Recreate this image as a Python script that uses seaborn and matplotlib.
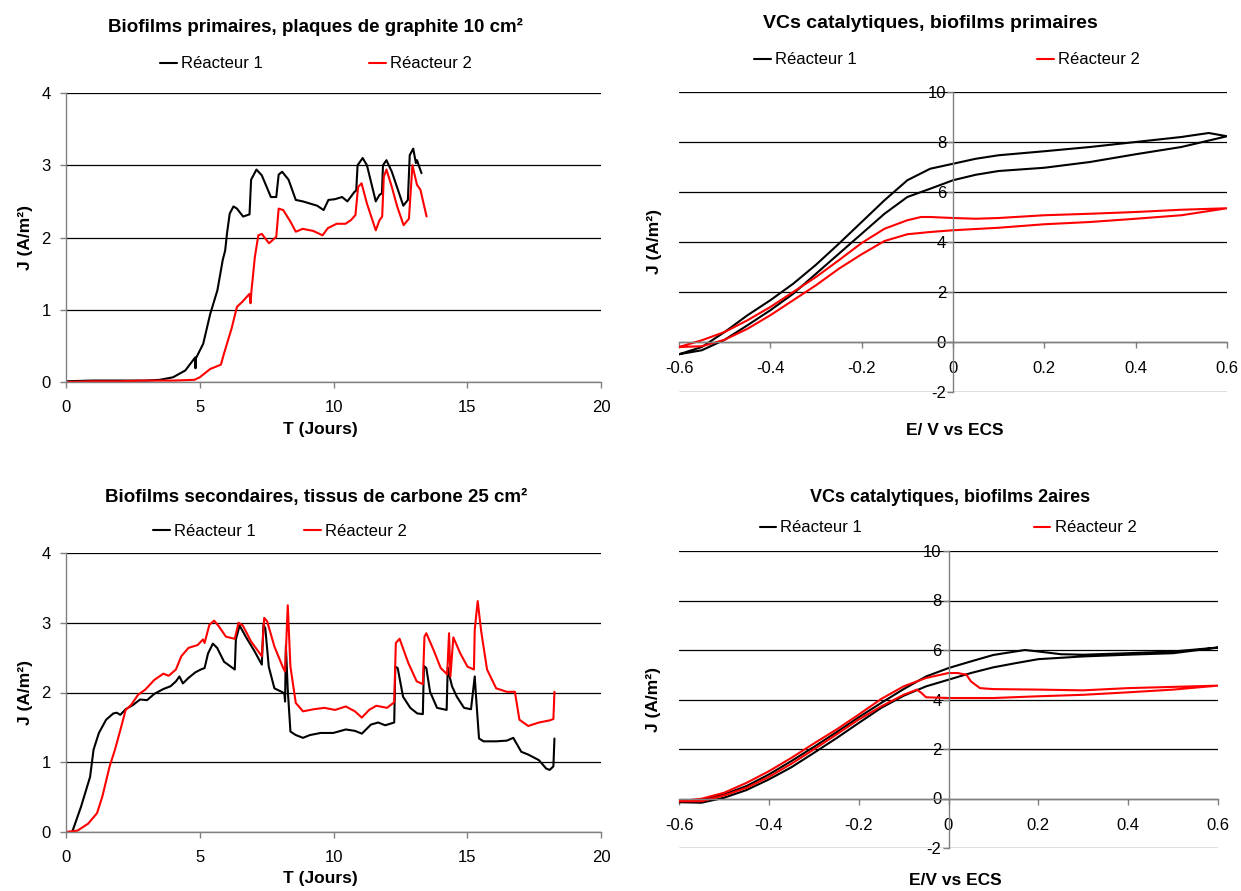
import numpy as np
import pandas as pd
import matplotlib
matplotlib.use("Agg")
import matplotlib.pyplot as plt
import seaborn as sns

sns.set_theme(style="white")
plt.rcParams["font.family"] = ["Liberation Sans", "DejaVu Sans"]
plt.rcParams["axes.unicode_minus"] = False
plt.rcParams["text.color"] = "black"
plt.rcParams["axes.labelcolor"] = "black"
plt.rcParams["xtick.color"] = "black"
plt.rcParams["ytick.color"] = "black"

# ---------------- data ----------------
series_names = ["Réacteur 1", "Réacteur 2"]
colors = {"Réacteur 1": "#000000", "Réacteur 2": "#FF0000"}

# Primary biofilms, chronoamperometry
t_prim_r1 = [0.0, 1.0, 2.0, 3.0, 3.5, 4.0, 4.46, 4.83, 4.84, 4.86, 5.13, 5.39, 5.66, 5.86, 5.95, 6.02,
             6.12, 6.26, 6.39, 6.62, 6.86, 6.92, 7.12, 7.32, 7.66, 7.86, 7.95, 8.08, 8.32, 8.59, 8.85,
             9.12, 9.39, 9.63, 9.81, 10.05, 10.32, 10.52, 10.78, 10.85, 10.90, 11.09, 11.25, 11.58,
             11.72, 11.81, 11.85, 11.98, 12.18, 12.61, 12.78, 12.85, 12.98, 13.08, 13.12, 13.29]
j_prim_r1 = [0.01, 0.02, 0.02, 0.02, 0.03, 0.065, 0.16, 0.34, 0.19, 0.33, 0.53, 0.94, 1.27, 1.69, 1.82, 2.06,
             2.33, 2.43, 2.40, 2.29, 2.32, 2.80, 2.94, 2.86, 2.56, 2.56, 2.87, 2.91, 2.80, 2.52, 2.50,
             2.47, 2.44, 2.38, 2.52, 2.53, 2.56, 2.50, 2.63, 2.65, 3.00, 3.10, 3.00, 2.50,
             2.59, 2.61, 3.00, 3.07, 2.91, 2.44, 2.52, 3.14, 3.23, 3.03, 3.07, 2.89]
t_prim_r2 = [0.0, 1.0, 2.0, 3.0, 4.0, 4.8, 5.0, 5.39, 5.79, 5.92, 6.19, 6.39, 6.59, 6.86, 6.90, 6.93,
             7.06, 7.19, 7.32, 7.59, 7.86, 7.95, 8.12, 8.39, 8.59, 8.85, 9.25, 9.59, 9.79, 10.12,
             10.45, 10.65, 10.82, 10.92, 11.05, 11.25, 11.58, 11.72, 11.82, 11.88, 11.98, 12.18,
             12.38, 12.62, 12.82, 12.95, 13.12, 13.25, 13.48]
j_prim_r2 = [0.0, 0.01, 0.01, 0.02, 0.02, 0.03, 0.065, 0.18, 0.24, 0.41, 0.74, 1.04, 1.11, 1.22, 1.09, 1.25,
             1.73, 2.03, 2.05, 1.92, 2.01, 2.40, 2.38, 2.22, 2.08, 2.12, 2.09, 2.03, 2.13, 2.19,
             2.19, 2.24, 2.31, 2.70, 2.75, 2.47, 2.10, 2.24, 2.29, 2.84, 2.94, 2.70,
             2.43, 2.17, 2.26, 3.00, 2.73, 2.66, 2.29]

# Secondary biofilms, chronoamperometry
t_sec_r1 = [0.0, 0.23, 0.56, 0.90, 1.03, 1.23, 1.50, 1.77, 1.90, 2.03, 2.23, 2.50, 2.77, 3.03, 3.30, 3.64,
            3.91, 4.11, 4.24, 4.37, 4.58, 4.84, 5.04, 5.18, 5.31, 5.49, 5.65, 5.91, 6.31, 6.35, 6.49,
            6.72, 7.05, 7.32, 7.38, 7.45, 7.58, 7.79, 8.06, 8.16, 8.19, 8.22, 8.29, 8.39, 8.59, 8.86,
            9.12, 9.52, 9.99, 10.46, 10.80, 11.06, 11.40, 11.67, 11.93, 12.27, 12.31, 12.40, 12.60,
            12.87, 13.13, 13.34, 13.38, 13.47, 13.61, 13.87, 14.23, 14.27, 14.34, 14.43, 14.61, 14.88,
            15.14, 15.28, 15.32, 15.44, 15.61, 16.08, 16.48, 16.72, 17.02, 17.28, 17.68, 17.95, 18.08,
            18.22, 18.26]
j_sec_r1 = [0.0, 0.0, 0.36, 0.79, 1.18, 1.42, 1.61, 1.70, 1.71, 1.68, 1.76, 1.82, 1.90, 1.89, 1.98, 2.05,
            2.09, 2.16, 2.23, 2.13, 2.21, 2.29, 2.33, 2.35, 2.56, 2.70, 2.64, 2.44, 2.33, 2.76, 2.96,
            2.80, 2.59, 2.40, 2.97, 2.92, 2.37, 2.06, 2.01, 1.99, 1.87, 2.67, 2.04, 1.44, 1.39, 1.35,
            1.39, 1.42, 1.42, 1.47, 1.45, 1.41, 1.54, 1.57, 1.53, 1.57, 2.37, 2.35, 1.94,
            1.78, 1.70, 1.69, 2.38, 2.35, 2.01, 1.78, 1.75, 2.36, 2.23, 2.09, 1.94, 1.78,
            1.76, 2.23, 1.99, 1.34, 1.30, 1.30, 1.31, 1.35, 1.15, 1.11, 1.03, 0.91, 0.89,
            0.94, 1.34]
t_sec_r2 = [0.0, 0.43, 0.83, 1.16, 1.36, 1.63, 1.83, 2.03, 2.23, 2.43, 2.70, 2.96, 3.30, 3.64, 3.84, 4.11,
            4.31, 4.58, 4.92, 5.12, 5.18, 5.36, 5.54, 5.71, 5.98, 6.31, 6.45, 6.61, 6.92, 7.32, 7.41,
            7.52, 7.79, 8.12, 8.19, 8.29, 8.39, 8.59, 8.86, 9.26, 9.66, 10.06, 10.46, 10.80, 11.06,
            11.33, 11.60, 12.00, 12.27, 12.33, 12.47, 12.80, 13.11, 13.34, 13.40, 13.47, 13.74, 14.01,
            14.25, 14.32, 14.37, 14.48, 14.74, 15.01, 15.25, 15.28, 15.39, 15.52, 15.74, 16.08, 16.48,
            16.78, 16.95, 17.28, 17.68, 18.08, 18.22, 18.26]
j_sec_r2 = [0.0, 0.02, 0.12, 0.27, 0.51, 0.94, 1.18, 1.46, 1.75, 1.82, 1.97, 2.04, 2.18, 2.27, 2.24, 2.33,
            2.52, 2.64, 2.68, 2.76, 2.71, 2.97, 3.03, 2.95, 2.80, 2.77, 3.00, 2.96, 2.73, 2.52, 3.07,
            3.02, 2.66, 2.35, 2.30, 3.25, 2.37, 1.85, 1.73, 1.76, 1.78, 1.75, 1.80, 1.73, 1.64,
            1.75, 1.81, 1.78, 1.86, 2.71, 2.77, 2.42, 2.16, 2.12, 2.80, 2.85, 2.61, 2.35,
            2.26, 2.85, 2.23, 2.79, 2.56, 2.37, 2.33, 2.90, 3.31, 2.88, 2.33, 2.06, 2.01,
            2.01, 1.61, 1.52, 1.57, 1.60, 1.62, 2.01]

# Catalytic CVs, primary biofilms (forward scan then return scan)
e_cv1_r1 = [-0.6, -0.55, -0.5, -0.45, -0.4, -0.35, -0.3, -0.25, -0.2, -0.15, -0.1, -0.05, 0.0, 0.05, 0.1,
            0.2, 0.3, 0.4, 0.5, 0.6,
            0.56, 0.5, 0.4, 0.3, 0.2, 0.1, 0.05, 0.0, -0.05, -0.1, -0.15, -0.2, -0.25, -0.3, -0.35,
            -0.4, -0.45, -0.5, -0.55, -0.6]
j_cv1_r1 = [-0.49, -0.33, 0.09, 0.67, 1.27, 1.93, 2.73, 3.53, 4.33, 5.13, 5.80, 6.13, 6.47, 6.69, 6.84,
            6.97, 7.20, 7.51, 7.80, 8.23,
            8.36, 8.20, 8.00, 7.80, 7.63, 7.47, 7.33, 7.13, 6.93, 6.47, 5.67, 4.80, 3.93, 3.09, 2.33,
            1.67, 1.07, 0.40, -0.20, -0.49]
e_cv1_r2 = [-0.6, -0.55, -0.5, -0.45, -0.4, -0.35, -0.3, -0.25, -0.2, -0.15, -0.1, -0.05, 0.0, 0.1, 0.2,
            0.3, 0.4, 0.5, 0.6,
            0.5, 0.4, 0.3, 0.2, 0.1, 0.05, 0.0, -0.05, -0.07, -0.1, -0.15, -0.2, -0.25, -0.3, -0.35,
            -0.4, -0.45, -0.5, -0.55, -0.6]
j_cv1_r2 = [-0.20, -0.17, 0.09, 0.53, 1.07, 1.67, 2.27, 2.93, 3.51, 4.04, 4.31, 4.40, 4.47, 4.57, 4.71,
            4.80, 4.93, 5.07, 5.35,
            5.29, 5.20, 5.13, 5.07, 4.96, 4.93, 4.96, 5.00, 5.00, 4.87, 4.53, 3.96, 3.27, 2.60, 2.00,
            1.40, 0.87, 0.40, 0.07, -0.20]

# Catalytic CVs, secondary biofilms
e_cv2_r1 = [-0.6, -0.55, -0.5, -0.45, -0.4, -0.35, -0.3, -0.25, -0.2, -0.15, -0.1, -0.05, 0.0, 0.05, 0.1,
            0.15, 0.2, 0.3, 0.4, 0.5, 0.6,
            0.5, 0.4, 0.3, 0.25, 0.2, 0.17, 0.1, 0.05, 0.0, -0.05, -0.1, -0.15, -0.2, -0.25, -0.3,
            -0.35, -0.4, -0.45, -0.5, -0.55, -0.6]
j_cv2_r1 = [-0.15, -0.17, 0.03, 0.34, 0.77, 1.26, 1.84, 2.43, 3.05, 3.66, 4.15, 4.53, 4.80, 5.07, 5.30,
            5.47, 5.63, 5.74, 5.81, 5.87, 6.10,
            5.94, 5.87, 5.81, 5.83, 5.94, 6.00, 5.80, 5.54, 5.27, 4.93, 4.42, 3.86, 3.28, 2.67, 2.08,
            1.51, 0.97, 0.50, 0.16, -0.04, -0.15]
e_cv2_r2 = [-0.6, -0.55, -0.5, -0.45, -0.4, -0.35, -0.3, -0.25, -0.2, -0.15, -0.1, -0.07, -0.06, -0.05,
            0.0, 0.1, 0.2, 0.3, 0.4, 0.5, 0.6,
            0.4, 0.3, 0.2, 0.1, 0.07, 0.05, 0.04, 0.02, 0.0, -0.05, -0.1, -0.15, -0.2, -0.25, -0.3,
            -0.35, -0.4, -0.45, -0.5, -0.55, -0.6]
j_cv2_r2 = [-0.11, -0.11, 0.12, 0.43, 0.87, 1.40, 1.98, 2.58, 3.19, 3.72, 4.19, 4.40, 4.26, 4.09,
            4.06, 4.06, 4.13, 4.19, 4.29, 4.40, 4.56,
            4.46, 4.37, 4.40, 4.42, 4.46, 4.73, 5.00, 5.07, 5.07, 4.87, 4.53, 4.02, 3.39, 2.78, 2.22,
            1.64, 1.10, 0.63, 0.23, -0.01, -0.11]

time_ticks = [0, 5, 10, 15, 20]
j_time_ticks = [0, 1, 2, 3, 4]
e_ticks = [-0.6, -0.4, -0.2, 0.0, 0.2, 0.4, 0.6]
e_tick_labels = ["-0.6", "-0.4", "-0.2", "0", "0.2", "0.4", "0.6"]
j_cv_ticks = [-2, 0, 2, 4, 6, 8, 10]

titles = ["Biofilms primaires, plaques de graphite 10 cm²",
          "VCs catalytiques, biofilms primaires",
          "Biofilms secondaires, tissus de carbone 25 cm²",
          "VCs catalytiques, biofilms 2aires"]


def make_df(xa, ya, xb, yb, xname, yname):
    d1 = pd.DataFrame({xname: xa, yname: ya, "série": series_names[0]})
    d2 = pd.DataFrame({xname: xb, yname: yb, "série": series_names[1]})
    return pd.concat([d1, d2], ignore_index=True)


df_prim = make_df(t_prim_r1, j_prim_r1, t_prim_r2, j_prim_r2, "T", "J")
df_sec = make_df(t_sec_r1, j_sec_r1, t_sec_r2, j_sec_r2, "T", "J")
df_cv1 = make_df(e_cv1_r1, j_cv1_r1, e_cv1_r2, j_cv1_r2, "E", "J")
df_cv2 = make_df(e_cv2_r1, j_cv2_r1, e_cv2_r2, j_cv2_r2, "E", "J")

# ---------------- figure ----------------
W, H = 1241, 891
fig = plt.figure(figsize=(W / 100, H / 100), dpi=100)


def rect(l, r, t, b):
    return [l / W, (H - b) / H, (r - l) / W, (b - t) / H]


ax_tl = fig.add_axes(rect(66, 601, 93, 382))
ax_tr = fig.add_axes(rect(679, 1227, 92, 392))
ax_bl = fig.add_axes(rect(66, 601, 553, 832))
ax_br = fig.add_axes(rect(679, 1218, 551, 848))

GRID = "#000000"
SPINE = "#808080"
LW = 1.5
TICK_FS = 12
LAB_FS = 12.5


def legend_for(ax, cx, cy, colsp):
    h, l = ax.get_legend_handles_labels()
    ax.legend(h, l, ncol=2, loc="center", bbox_to_anchor=(cx / W, 1 - cy / H),
              bbox_transform=fig.transFigure, frameon=False, fontsize=12,
              handlelength=1.0, handletextpad=0.25, columnspacing=colsp,
              borderaxespad=0, borderpad=0)


def style_time(ax, df):
    sns.lineplot(data=df, x="T", y="J", hue="série", palette=colors, sort=False,
                 estimator=None, linewidth=LW, ax=ax)
    ax.set_xlim(0, 20)
    ax.set_ylim(0, 4)
    ax.set_xticks(time_ticks)
    ax.set_yticks(j_time_ticks)
    ax.yaxis.grid(True, color=GRID, linewidth=0.9)
    ax.xaxis.grid(False)
    ax.set_axisbelow(True)
    for s in ["top", "right"]:
        ax.spines[s].set_visible(False)
    for s in ["left", "bottom"]:
        ax.spines[s].set_color(SPINE)
        ax.spines[s].set_linewidth(1.0)
    ax.tick_params(axis="x", direction="out", length=4, width=1, color=SPINE,
                   labelsize=TICK_FS, pad=9, bottom=True, labelcolor="black")
    ax.tick_params(axis="y", direction="out", length=4, width=1, color=SPINE,
                   labelsize=TICK_FS, pad=7, left=True, labelcolor="black")
    ax.set_xlabel("T (Jours)", fontsize=LAB_FS, fontweight="bold")
    ax.set_ylabel("J (A/m²)", fontsize=LAB_FS, fontweight="bold")


def style_cv(ax, df):
    sns.lineplot(data=df, x="E", y="J", hue="série", palette=colors, sort=False,
                 estimator=None, linewidth=LW, ax=ax)
    ax.set_xlim(-0.6, 0.6)
    ax.set_ylim(-2, 10)
    ax.set_xticks(e_ticks)
    ax.set_xticklabels(e_tick_labels)
    ax.set_yticks(j_cv_ticks)
    ax.yaxis.grid(True, color=GRID, linewidth=0.9)
    ax.xaxis.grid(False)
    ax.set_axisbelow(True)
    for s in ["top", "right"]:
        ax.spines[s].set_visible(False)
    ax.spines["left"].set_position(("data", 0))
    ax.spines["bottom"].set_position(("data", 0))
    for s in ["left", "bottom"]:
        ax.spines[s].set_color(SPINE)
        ax.spines[s].set_linewidth(1.0)
    ax.tick_params(axis="x", direction="out", length=4, width=1, color=SPINE,
                   labelsize=TICK_FS, pad=10, bottom=True, labelcolor="black")
    ax.tick_params(axis="y", direction="out", length=4, width=1, color=SPINE,
                   labelsize=TICK_FS, pad=1, left=True, labelcolor="black")
    ax.set_ylabel("J (A/m²)", fontsize=LAB_FS, fontweight="bold")


style_time(ax_tl, df_prim)
style_time(ax_bl, df_sec)
style_cv(ax_tr, df_cv1)
style_cv(ax_br, df_cv2)
ax_tr.set_xlabel("E/ V vs ECS", fontsize=LAB_FS, fontweight="bold")
ax_br.set_xlabel("E/V vs ECS", fontsize=LAB_FS, fontweight="bold")

# label positions (axes coordinates)
for ax, xl, yl in [(ax_tl, (0.476, -0.163), (-0.075, 0.5)),
                   (ax_bl, (0.476, -0.165), (-0.075, 0.5)),
                   (ax_tr, (0.504, -0.127), (-0.044, 0.5)),
                   (ax_br, (0.512, -0.111), (-0.048, 0.5))]:
    ax.xaxis.set_label_coords(*xl)
    ax.yaxis.set_label_coords(*yl)
    ax.xaxis.label.set_va("center")
    ax.yaxis.label.set_va("center")

legend_for(ax_tl, 316, 64, 6.4)
legend_for(ax_tr, 947, 60, 10.8)
legend_for(ax_bl, 280, 531, 2.9)
legend_for(ax_br, 948, 528, 10.3)

fig.text(315 / W, 1 - 27 / H, titles[0], ha="center", va="center", fontsize=13.5, fontweight="bold")
fig.text(930 / W, 1 - 24 / H, titles[1], ha="center", va="center", fontsize=14, fontweight="bold")
fig.text(316 / W, 1 - 497 / H, titles[2], ha="center", va="center", fontsize=13.5, fontweight="bold")
fig.text(950 / W, 1 - 498 / H, titles[3], ha="center", va="center", fontsize=13, fontweight="bold")

fig.savefig("out.png", dpi=100)
